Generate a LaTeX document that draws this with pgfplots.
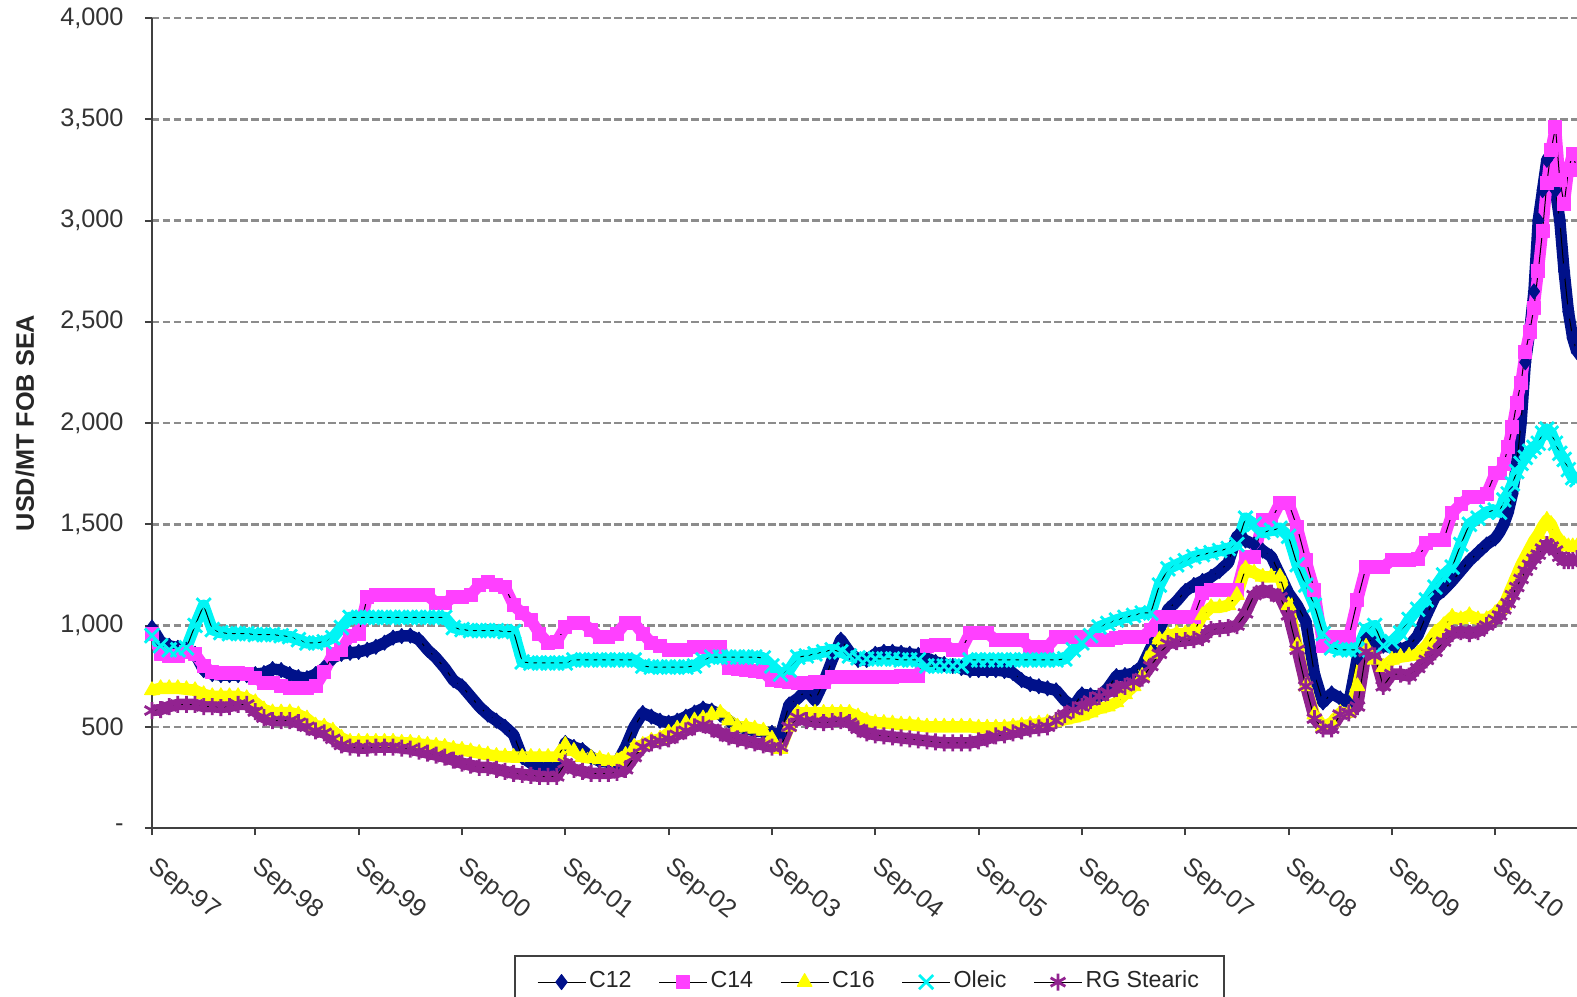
\documentclass[border=0pt]{standalone}
\usepackage{fontspec}
\setmainfont{Liberation Sans}
\usepackage{pgfplots}
\usepackage{pgfplotstable}
\pgfplotsset{compat=1.18}

\definecolor{cNavy}{HTML}{00118A}
\definecolor{cMag}{HTML}{FF40FF}
\definecolor{cYel}{HTML}{FFFF00}
\definecolor{cCyan}{HTML}{00F5F5}
\definecolor{cPurp}{HTML}{922390}

% m = months since Sep-97, prices in USD/MT FOB SEA
\pgfplotstableread{
m c12 c14 c16 ole rg
0 990 960 680 950 580
1 920 860 690 900 585
2 900 850 690 880 600
3 890 850 690 880 610
4 880 870 685 890 610
5 860 860 680 1000 610
6 780 800 660 1100 600
7 760 770 650 980 600
8 755 765 650 965 595
9 755 765 650 960 600
10 755 765 650 960 610
11 755 760 640 960 610
12 760 740 620 955 575
13 765 716 585 955 545
14 785 716 570 955 530
15 780 700 570 950 530
16 760 690 570 945 530
17 745 690 560 930 520
18 740 690 540 914 500
19 760 700 505 914 480
20 790 770 500 920 470
21 840 860 480 940 440
22 860 880 445 990 410
23 865 950 425 1040 400
24 870 960 425 1040 395
25 880 1140 425 1040 395
26 895 1150 425 1040 400
27 915 1150 425 1040 400
28 940 1150 425 1040 400
29 948 1150 420 1040 395
30 950 1150 420 1040 390
31 930 1150 415 1040 380
32 880 1150 410 1040 370
33 840 1110 405 1040 360
34 790 1110 400 1040 350
35 730 1140 390 990 335
36 700 1140 385 980 320
37 650 1150 378 975 310
38 600 1200 370 975 300
39 560 1215 362 975 300
40 530 1200 355 975 290
41 500 1190 352 970 280
42 460 1100 350 970 270
43 350 1060 350 820 265
44 320 1027 350 815 260
45 310 960 350 815 255
46 310 914 350 815 255
47 310 920 350 815 255
48 420 993 410 815 320
49 400 1012 380 830 290
50 385 1012 350 830 280
51 350 980 345 830 270
52 330 943 340 830 270
53 325 943 330 830 270
54 320 960 330 830 275
55 400 1012 360 830 290
56 500 1012 400 830 350
57 568 960 410 800 400
58 550 914 430 795 420
59 530 900 440 795 430
60 520 880 470 795 440
61 530 880 490 795 460
62 550 880 518 795 480
63 570 894 530 800 500
64 590 894 540 830 510
65 580 894 560 844 490
66 560 894 568 844 470
67 530 790 530 844 450
68 500 785 500 844 440
69 490 780 500 844 430
70 480 775 490 844 420
71 475 770 480 840 410
72 470 730 440 800 400
73 460 725 390 760 400
74 610 720 500 780 500
75 640 715 568 844 545
76 680 715 568 850 530
77 630 720 568 860 525
78 720 720 568 870 520
79 830 745 568 880 525
80 930 745 568 870 530
81 870 745 568 850 520
82 830 745 550 840 490
83 830 745 530 835 470
84 860 745 520 835 460
85 870 745 518 835 455
86 870 745 515 835 450
87 865 750 510 830 445
88 860 750 510 830 440
89 855 750 505 830 435
90 840 900 500 800 430
91 820 905 500 800 425
92 810 905 500 800 420
93 800 880 500 800 420
94 790 880 500 800 420
95 780 963 500 830 420
96 780 963 495 830 430
97 780 963 495 830 440
98 780 928 495 830 455
99 775 928 495 830 460
100 765 928 500 830 470
101 730 928 505 830 480
102 710 894 510 830 490
103 700 894 515 830 495
104 690 894 520 830 500
105 680 943 525 830 530
106 630 943 535 835 560
107 600 943 545 880 583
108 660 943 555 914 600
109 655 930 570 950 630
110 650 930 590 993 650
111 690 930 600 1010 670
112 750 940 620 1027 690
113 755 943 660 1040 700
114 765 943 700 1050 720
115 800 943 750 1062 740
116 890 978 860 1062 800
117 980 1042 930 1200 860
118 1080 1042 950 1280 910
119 1120 1042 960 1300 920
120 1170 1042 960 1320 925
121 1200 1042 970 1340 930
122 1220 1160 1050 1350 940
123 1240 1175 1090 1360 980
124 1270 1175 1090 1370 985
125 1310 1175 1100 1380 990
126 1440 1175 1150 1400 1000
127 1420 1338 1280 1530 1060
128 1400 1338 1260 1500 1150
129 1370 1521 1240 1460 1175
130 1340 1521 1240 1470 1160
131 1250 1605 1240 1480 1140
132 1160 1605 1100 1440 1050
133 1100 1486 900 1300 880
134 1020 1323 700 1200 700
135 760 1175 560 1100 540
136 620 900 500 960 490
137 665 943 520 890 490
138 640 943 568 880 560
139 617 943 568 880 568
140 844 1126 700 880 600
141 943 1289 894 980 870
142 910 1289 830 1000 850
143 900 1289 795 900 700
144 890 1323 830 920 760
145 880 1323 844 963 760
146 900 1323 850 1030 750
147 950 1330 860 1080 790
148 1050 1407 900 1126 830
149 1140 1420 963 1190 870
150 1175 1420 1000 1250 920
151 1220 1555 1042 1289 960
152 1270 1600 1030 1400 970
153 1320 1634 1050 1500 960
154 1360 1634 1030 1530 970
155 1400 1650 1030 1560 1000
156 1430 1753 1060 1570 1030
156.5 1460 1753 1080 1560 1050
157 1500 1800 1100 1620 1080
157.5 1560 1882 1150 1650 1110
158 1650 1980 1200 1700 1150
158.5 1800 2100 1250 1760 1190
159 2000 2200 1300 1800 1230
159.5 2300 2350 1340 1830 1270
160 2450 2450 1380 1860 1300
160.5 2650 2570 1420 1880 1330
161 3000 2750 1450 1900 1350
161.5 3150 2950 1490 1950 1380
162 3300 3185 1521 1970 1400
162.5 3330 3350 1500 1950 1390
163 3150 3460 1450 1900 1370
163.5 3000 3200 1420 1850 1340
164 2750 3080 1400 1820 1320
164.5 2550 3250 1390 1770 1320
165 2420 3330 1390 1730 1320
165.5 2350 3250 1390 1720 1330
}\prices

\begin{document}
\begin{tikzpicture}
\path[use as bounding box] (-15.2mm,-16.8mm) rectangle (142.5mm,82.8mm);
\begin{axis}[
    at={(0,0)}, anchor=south west,
    scale only axis,
    width=142.5mm, height=81mm,
    xmin=0, xmax=165.5,
    ymin=0, ymax=4000,
    axis x line*=bottom, axis y line*=left,
    axis line style={black!75, line width=0.25mm},
    tick align=outside,
    major tick length=0.7mm,
    tick style={black!75, line width=0.2mm},
    xtick={0,12,...,156},
    xticklabels={Sep-97,Sep-98,Sep-99,Sep-00,Sep-01,Sep-02,Sep-03,Sep-04,Sep-05,Sep-06,Sep-07,Sep-08,Sep-09,Sep-10},
    ytick={0,500,...,4000},
    yticklabels={-,500,{1,000},{1,500},{2,000},{2,500},{3,000},{3,500},{4,000}},
    ymajorgrids,
    major grid style={black!45, line width=0.25mm, dash pattern=on 0.75mm off 0.35mm},
    tick label style={font=\fontsize{7.2}{8.6}\selectfont, text=black!80},
    x tick label style={rotate=-38, anchor=north west, inner sep=0pt, xshift=1.7mm, yshift=-1.1mm},
    y tick label style={xshift=-0.9mm},
    ylabel={\bfseries USD/MT FOB SEA},
    every axis y label/.style={at={(axis description cs:-0.0891,0.5)}, anchor=center, rotate=90,
        font=\fontsize{7.2}{8.6}\selectfont, text=black!85},
    legend columns=5,
    legend style={at={(axis description cs:0.5035,0)}, anchor=north, yshift=-12.7mm,
        draw=black!75, line width=0.2mm, inner xsep=2.2mm, inner ysep=0.8mm,
        font=\fontsize{6.6}{8}\selectfont, text=black!85,
        nodes={inner xsep=0.3mm},
        /tikz/every even column/.append style={column sep=2.4mm}},
    legend cell align=left,
    legend image code/.code={\draw[mark repeat=2, mark phase=2, #1] plot coordinates {(0mm,0mm) (2.4mm,0mm) (4.8mm,0mm)};},
    every axis plot/.append style={line join=round},
]
\addplot[cNavy, line width=1.15mm, forget plot] table[x=m, y=c12] {\prices};
\addplot[black, line width=0.1mm, mark=diamond*, mark size=0.75mm,
    mark options={solid, fill=cNavy, draw=cNavy}] table[x=m, y=c12] {\prices};
\addlegendentry{C12}
\addplot[cMag, line width=1.15mm, forget plot] table[x=m, y=c14] {\prices};
\addplot[black, line width=0.1mm, mark=square*, mark size=0.65mm,
    mark options={solid, fill=cMag, draw=cMag}] table[x=m, y=c14] {\prices};
\addlegendentry{C14}
\addplot[cYel, line width=1.15mm, forget plot] table[x=m, y=c16] {\prices};
\addplot[black, line width=0.1mm, mark=triangle*, mark size=0.85mm,
    mark options={solid, fill=cYel, draw=cYel}] table[x=m, y=c16] {\prices};
\addlegendentry{C16}
\addplot[cCyan, line width=1.15mm, forget plot] table[x=m, y=ole] {\prices};
\addplot[black, line width=0.1mm, mark=x, mark size=1.0mm,
    mark options={solid, draw=cCyan, line width=0.28mm}] table[x=m, y=ole] {\prices};
\addlegendentry{Oleic}
\addplot[cPurp, line width=1.15mm, forget plot] table[x=m, y=rg] {\prices};
\addplot[black, line width=0.1mm, mark=asterisk, mark size=0.85mm,
    mark options={solid, draw=cPurp, line width=0.28mm}] table[x=m, y=rg] {\prices};
\addlegendentry{RG Stearic}
\end{axis}
\end{tikzpicture}
\end{document}
